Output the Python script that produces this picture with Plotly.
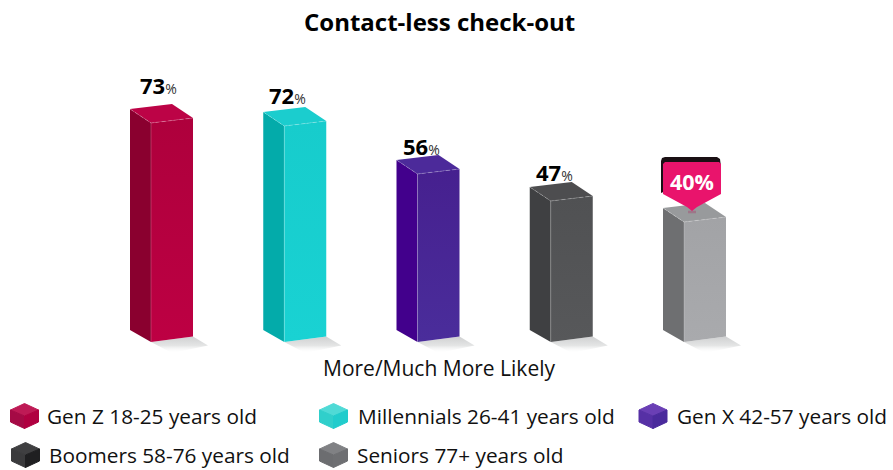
"""
Contact-less check-out chart, 3D looking bars drawn as filled scatter polygons
"""

import plotly.graph_objects as go

categories = ['Gen Z 18-25 years old', 'Millennials 26-41 years old', 'Gen X 42-57 years old',
              'Boomers 58-76 years old', 'Seniors 77+ years old']
values = [73, 72, 56, 47, 40]
axis_label = 'More/Much More Likely'
title = 'Contact-less check-out'

front_colors = ['#BD0043', '#19D2D3', '#4A2D9B', '#57585A', '#A9AAAD']
front_dark = ['#AE003C', '#17CCCC', '#46208F', '#505153', '#A2A3A6']
side_colors = ['#8A002F', '#03ABAA', '#42008C', '#3F4042', '#6E6F71']
top_colors = ['#BC0346', '#1BCDCE', '#4C2A9A', '#4D4D4F', '#989A9C']

# legend cube colours are a little different from the bars
icon_top = ['#BE1A55', '#4FDAD6', '#6A3FB5', '#3F3F41', '#808184']
icon_side = ['#A50A45', '#30CFCB', '#5630A5', '#3A3A3C', '#6C6D70']
icon_front = ['#B00040', '#21CCCC', '#4A2A9C', '#1F1F21', '#6E6F72']

W, H = 893, 470
PX_PER_UNIT = 3.0   # one percent is 3 px tall
BASE_Y = 342        # pixel row of the front corner at 0%
STEP = 133.25       # pixels between bars
FIRST_X = 151       # pixel column of first front corner

# axes fill the whole page
x_range = [-FIRST_X / STEP, (W - FIRST_X) / STEP]
y_range = [(BASE_Y - H) / PX_PER_UNIT, BASE_Y / PX_PER_UNIT]


def dx(px):
    return px / STEP


def dy(px):
    return px / PX_PER_UNIT


def to_x(px):
    return x_range[0] + px / STEP


def to_y(py):
    return y_range[1] - py / PX_PER_UNIT


def poly(xs, ys, color, gradient=None, lw=0):
    return go.Scatter(x=xs + xs[:1], y=ys + ys[:1], mode='lines', fill='toself',
                      fillcolor=color, fillgradient=gradient,
                      line=dict(width=lw, color=color), hoverinfo='skip', showlegend=False)


fig = go.Figure()

for i, v in enumerate(values):
    w, d = dx(42), dx(21)
    # floor shadow
    fig.add_trace(poly([i, i + w, i + dx(57), i + dx(21)],
                       [0, dy(5.5), dy(-3.5), dy(-11)], '#e4e5e5',
                       dict(type='vertical', colorscale=[[0, 'rgba(255,255,255,0)'], [0.45, '#e4e5e5'],
                                                         [1, '#cfd0d1']])))
    # left side
    fig.add_trace(poly([i - d, i, i, i - d], [dy(12), 0, v, v + dy(14)], side_colors[i]))
    # front
    fig.add_trace(poly([i, i + w, i + w, i], [0, dy(5.5), v + dy(5), v], front_colors[i],
                       dict(type='vertical', colorscale=[[0, front_colors[i]], [1, front_dark[i]]])))
    # top
    fig.add_trace(poly([i - d, i + dx(21), i + w, i],
                       [v + dy(14), v + dy(19), v + dy(5), v], top_colors[i]))
    # pale edges along the front corner
    fig.add_trace(go.Scatter(x=[i - d, i, i + w], y=[v + dy(14), v, v + dy(5)], mode='lines',
                             line=dict(color='rgba(255,255,255,0.35)', width=0.7, dash='4px,2px'),
                             hoverinfo='skip', showlegend=False))
    fig.add_trace(go.Scatter(x=[i, i], y=[0, v], mode='lines',
                             line=dict(color='rgba(255,255,255,0.3)', width=0.7),
                             hoverinfo='skip', showlegend=False))

# value labels
label_shift = [(7, 38), (3, 31), (4, 28), (4, 29)]
for i, v in enumerate(values[:4]):
    fig.add_annotation(x=i + dx(label_shift[i][0]), y=v + dy(label_shift[i][1]),
                       text=f'<b>{v}</b><span style="font-size:14px;color:#333">%</span>',
                       showarrow=False, font=dict(size=22, color='black'))

# callout on the last bar
i, v = 4, values[4]
cx = i + dx(8)
tip = v + dy(11)
fig.add_trace(poly([cx - dx(27), cx + dx(25), cx + dx(28), cx + dx(29), cx - dx(31), cx - dx(31), cx - dx(30)],
                   [v + dy(65), v + dy(65), v + dy(63), v + dy(55), v + dy(29), v + dy(61), v + dy(64)],
                   '#1a1014'))
fig.add_trace(poly([cx - dx(27), cx + dx(27), cx + dx(29), cx + dx(29), cx + dx(5), cx, cx - dx(5),
                    cx - dx(29), cx - dx(29)],
                   [v + dy(60), v + dy(60), v + dy(58), v + dy(28), v + dy(15), tip, v + dy(15),
                    v + dy(28), v + dy(58)], '#E9146C'))
fig.add_trace(go.Scatter(x=[cx - dx(4), cx + dx(4)], y=[v + dy(10), v + dy(10)], mode='lines',
                         line=dict(color='rgba(170,50,100,0.35)', width=2.5),
                         hoverinfo='skip', showlegend=False))
fig.add_annotation(x=cx, y=v + dy(41), text=f'<b>{v}%</b>', showarrow=False,
                   font=dict(size=21.5, color='white'))

# legend rows: icon x, row y, text x in pixels
legend_pos = [(24.5, 416, 44.5), (333.5, 416, 355.5), (653, 416, 675),
              (25.5, 455, 46.5), (333.5, 455, 354.5)]
for i, name in enumerate(categories):
    lx, ly, tx = legend_pos[i]
    x0, y0 = to_x(lx), to_y(ly)
    rx, ry = dx(14), dy(12.5)
    mid = dy(6)
    fig.add_trace(poly([x0 - rx, x0, x0 + rx, x0], [y0 + mid, y0 + ry, y0 + mid, y0], icon_top[i], lw=1))
    fig.add_trace(poly([x0 - rx, x0, x0, x0 - rx], [y0 + mid, y0, y0 - ry, y0 - mid], icon_side[i], lw=1))
    fig.add_trace(poly([x0, x0 + rx, x0 + rx, x0], [y0, y0 + mid, y0 - mid, y0 - ry], icon_front[i], lw=1))
    fig.add_annotation(x=to_x(tx), y=y0, text=name, showarrow=False, xanchor='left',
                       font=dict(size=20.8, color='#111'))

fig.add_annotation(x=to_x(439), y=to_y(368), text=axis_label, showarrow=False,
                   font=dict(size=21, color='#111'))
fig.add_annotation(x=to_x(439), y=to_y(21.5), text=f'<b>{title}</b>', showarrow=False,
                   font=dict(size=24, color='black'))

fig.update_layout(
    width=W, height=H,
    margin=dict(l=0, r=0, t=0, b=0),
    paper_bgcolor='white', plot_bgcolor='white',
    font=dict(family='Open Sans'),
    showlegend=False,
    xaxis=dict(range=x_range, visible=False, fixedrange=True),
    yaxis=dict(range=y_range, visible=False, fixedrange=True),
)

fig.write_html("out.html", config=dict(displayModeBar=False),
               post_script="document.body.style.margin='0';")
